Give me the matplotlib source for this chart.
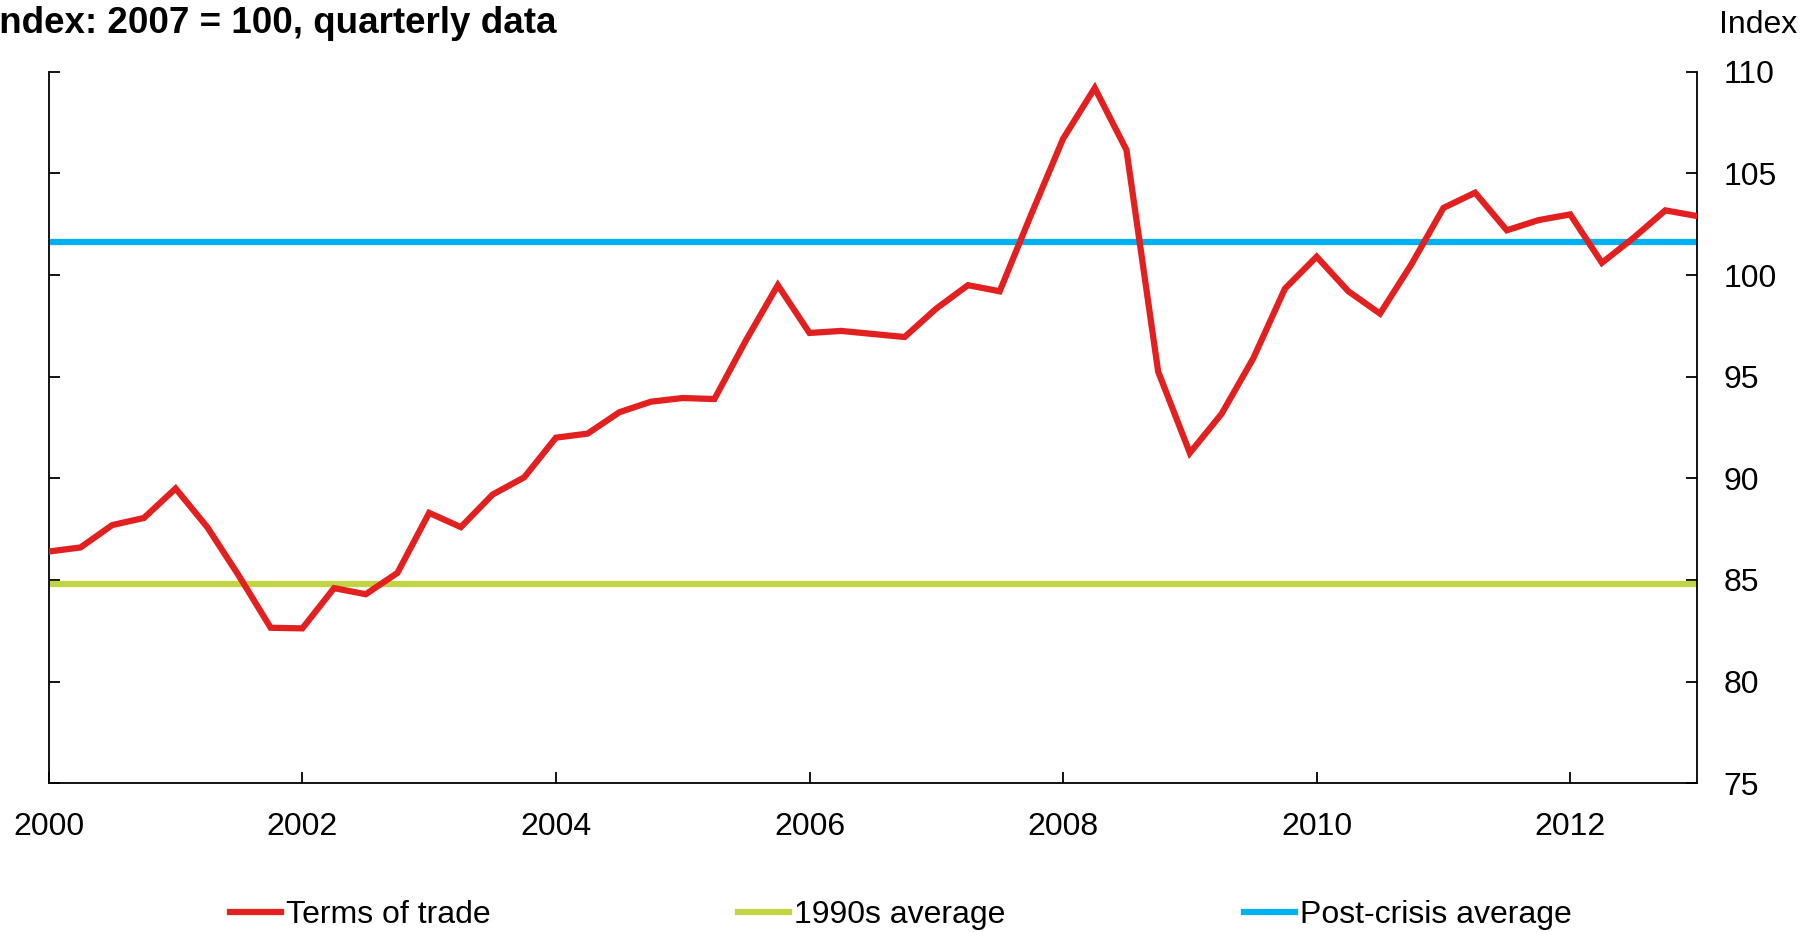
import matplotlib
matplotlib.use("Agg")
import matplotlib.pyplot as plt
import numpy as np

plt.rcParams['font.family'] = ['Liberation Sans', 'DejaVu Sans']

# Quarterly data, 2000 Q1 .. 2013 Q1
quarters = [2000 + 0.25 * i for i in range(53)]
terms_of_trade = [
    86.4, 86.6, 87.7, 88.05, 89.5, 87.6, 85.2, 82.65,
    82.62, 84.6, 84.3, 85.35, 88.3, 87.6, 89.2, 90.05,
    92.0, 92.2, 93.25, 93.77, 93.95, 93.9, 96.8, 99.5,
    97.15, 97.25, 97.1, 96.95, 98.35, 99.5, 99.2, 103.0,
    106.7, 109.2, 106.15, 95.25, 91.25, 93.17, 95.9, 99.33,
    100.9, 99.2, 98.1, 100.55, 103.3, 104.05, 102.2, 102.7,
    102.98, 100.6, 101.83, 103.18, 102.9,
]
avg_1990s = 84.8
post_crisis_avg = 101.62

x_ticks = [2000, 2002, 2004, 2006, 2008, 2010, 2012]
y_ticks = [75, 80, 85, 90, 95, 100, 105, 110]

RED = '#E2201F'
GREEN = '#C3D443'
BLUE = '#00B0F0'

FS = 23

W, H = 1802, 932
fig = plt.figure(figsize=(W / 100, H / 100), dpi=100)
ax = fig.add_axes([48.8 / W, 1 - 783.3 / H, (1697 - 48.8) / W, (783.3 - 71.7) / H])

ax.plot(quarters, terms_of_trade, color=RED, lw=4.5, solid_joinstyle='miter', zorder=3,
        label='Terms of trade')
ax.axhline(avg_1990s, color=GREEN, lw=4.5, zorder=2, label='1990s average')
ax.axhline(post_crisis_avg, color=BLUE, lw=4.5, zorder=2, label='Post-crisis average')

ax.set_xlim(2000, 2013)
ax.set_ylim(75, 110)
ax.set_xticks(x_ticks)
ax.set_xticklabels([str(t) for t in x_ticks])
ax.set_yticks(y_ticks)
ax.spines['top'].set_visible(False)
for s in ['left', 'right', 'bottom']:
    ax.spines[s].set_linewidth(1.3)
    ax.spines[s].set_color('black')

ax.tick_params(axis='y', which='both', direction='in', left=True, right=True,
               labelleft=False, labelright=True, length=8, width=1.3,
               labelsize=FS, pad=19)
ax.tick_params(axis='x', direction='in', bottom=True, top=False, length=8, width=1.3,
               labelsize=FS, pad=21)

fig.text(-11 / W, 1 - 33 / H, 'Index: 2007 = 100, quarterly data', fontsize=26.5,
         fontweight='bold', ha='left', va='baseline')
fig.text(1797 / W, 1 - 33 / H, 'Index', fontsize=FS, ha='right', va='baseline')

handles = ax.get_lines()
starts = [230, 738, 1244]
for h, xs in zip(handles, starts):
    fig.legend([h], [h.get_label()], loc='center left',
               bbox_to_anchor=(xs / W, 1 - 915 / H), frameon=False,
               fontsize=FS, handlelength=1.6, handletextpad=0.15,
               borderpad=0, borderaxespad=0)

fig.savefig('out.png', dpi=100)
